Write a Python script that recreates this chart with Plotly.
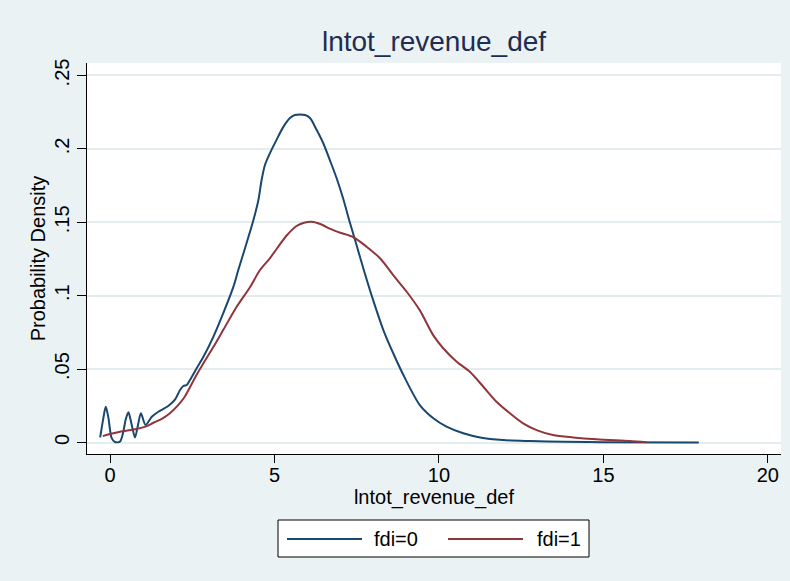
import plotly.graph_objects as go

# Kernel density estimates of lntot_revenue_def, by fdi group
series_names = ["fdi=0", "fdi=1"]
series_colors = ["#1a476f", "#90353b"]

x_fdi0 = [-0.30, -0.20, -0.13, -0.05, 0.05, 0.15, 0.30, 0.40, 0.48, 0.56, 0.65, 0.76,
          0.85, 0.94, 1.08, 1.27, 1.47, 1.77, 1.98, 2.13, 2.23, 2.33, 2.43, 2.63,
          2.84, 3.14, 3.44, 3.75, 3.90, 4.15, 4.36, 4.51, 4.61, 4.71, 4.86, 5.07,
          5.27, 5.47, 5.62, 5.93, 6.08, 6.28, 6.48, 6.69, 6.89, 7.09, 7.29, 7.45,
          7.75, 8.00, 8.31, 8.61, 8.97, 9.42, 9.83, 10.23, 10.74, 11.25, 11.95, 12.77,
          13.78, 15.00, 17.90]
y_fdi0 = [0.0035, 0.0170, 0.0244, 0.0170, 0.0030, 0.0004, 0.0006, 0.0070, 0.0160, 0.0206,
          0.0130, 0.0035, 0.0120, 0.0199, 0.0120, 0.0176, 0.0210, 0.0249, 0.0294, 0.0358,
          0.0385, 0.0392, 0.0426, 0.0505, 0.0584, 0.0720, 0.0880, 0.1060, 0.1175, 0.1357,
          0.1516, 0.1650, 0.1790, 0.1890, 0.1970, 0.2065, 0.2150, 0.2210, 0.2231, 0.2231,
          0.2210, 0.2130, 0.2040, 0.1920, 0.1800, 0.1660, 0.1500, 0.1379, 0.1150, 0.0970,
          0.0766, 0.0608, 0.0437, 0.0255, 0.0165, 0.0108, 0.0063, 0.0035, 0.0017, 0.0010,
          0.0005, 0.0002, 0.0000]

x_fdi1 = [-0.22, 0.00, 0.30, 0.81, 1.10, 1.32, 1.60, 1.82, 2.05, 2.25, 2.45, 2.63, 2.84,
          3.14, 3.44, 3.85, 4.26, 4.56, 4.86, 5.07, 5.37, 5.67, 5.90, 6.13, 6.30, 6.48,
          6.70, 7.00, 7.39, 7.80, 8.21, 8.61, 9.02, 9.42, 9.83, 10.13, 10.54, 10.94,
          11.35, 11.75, 12.16, 12.56, 12.97, 13.47, 14.08, 14.79, 15.80, 16.31]
y_fdi1 = [0.0044, 0.0058, 0.0074, 0.0092, 0.0110, 0.0135, 0.0165, 0.0200, 0.0250, 0.0305,
          0.0385, 0.0460, 0.0540, 0.0650, 0.0766, 0.0925, 0.1060, 0.1175, 0.1255, 0.1320,
          0.1410, 0.1475, 0.1497, 0.1504, 0.1495, 0.1480, 0.1455, 0.1429, 0.1400, 0.1334,
          0.1255, 0.1140, 0.1027, 0.0900, 0.0730, 0.0642, 0.0550, 0.0482, 0.0380, 0.0278,
          0.0199, 0.0131, 0.0085, 0.0051, 0.0035, 0.0022, 0.0010, 0.0002]

x_ticks = [0, 5, 10, 15, 20]
y_ticks = [0, 0.05, 0.10, 0.15, 0.20, 0.25]
y_tick_text = ["0", ".05", ".1", ".15", ".2", ".25"]

chart_title = "lntot_revenue_def"
x_title = "lntot_revenue_def"
y_title = "Probability Density"

W, H = 790, 581
M_L, M_R, M_T, M_B = 87, 9, 63, 127
FONT = "Liberation Sans, Arial, sans-serif"
BG = "#EAF2F3"


def px_x(px):
    return (px - M_L) / (W - M_L - M_R)


def px_y(py):
    return (H - M_B - py) / (H - M_T - M_B)


fig = go.Figure()
for xs, ys, name, color in zip([x_fdi0, x_fdi1], [y_fdi0, y_fdi1], series_names, series_colors):
    fig.add_trace(go.Scatter(
        x=xs, y=ys, mode="lines", name=name,
        line=dict(color=color, width=2, shape="spline", smoothing=0.8),
        showlegend=False,
    ))

fig.update_layout(
    width=W, height=H,
    margin=dict(l=M_L, r=M_R, t=M_T, b=M_B),
    paper_bgcolor=BG, plot_bgcolor="white",
    font=dict(family=FONT, color="black"),
    title=dict(text=chart_title, x=0.5, xref="paper", xanchor="center",
               y=1 - 41 / H, yref="container", yanchor="middle",
               font=dict(size=28, color="#1f2d50", family=FONT)),
)

fig.update_xaxes(
    range=[-0.70, 20.4], tickvals=x_ticks, ticks="outside", ticklen=8, tickwidth=1,
    tickcolor="black", showgrid=False, zeroline=False, showline=True,
    linecolor="black", linewidth=1, tickfont=dict(size=20), ticklabelstandoff=-5,
    title=dict(text=x_title, font=dict(size=20), standoff=3),
)
fig.update_yaxes(
    range=[-0.0078, 0.2585], tickvals=y_ticks, ticktext=y_tick_text, tickangle=-90,
    ticks="outside", ticklen=9, tickwidth=1, tickcolor="black",
    showgrid=True, gridcolor="#E3ECEF", gridwidth=1.5, zeroline=False,
    showline=True, linecolor="black", linewidth=1, tickfont=dict(size=20),
    title=dict(text=y_title, font=dict(size=20), standoff=0),
)

# Legend box below the plot
fig.add_shape(type="rect", xref="paper", yref="paper",
              x0=px_x(278), x1=px_x(589), y0=px_y(557), y1=px_y(520),
              fillcolor="white", line=dict(color="black", width=1), layer="above")
legend_slots = [(287, 362, 372), (448, 523, 535)]
for (lx0, lx1, tx), name, color in zip(legend_slots, series_names, series_colors):
    fig.add_shape(type="line", xref="paper", yref="paper",
                  x0=px_x(lx0), x1=px_x(lx1), y0=px_y(539), y1=px_y(539),
                  line=dict(color=color, width=2))
    fig.add_annotation(text=name, xref="paper", yref="paper", x=px_x(tx), y=px_y(539),
                       xanchor="left", yanchor="middle", showarrow=False,
                       font=dict(size=20, color="black", family=FONT))

fig.write_html("out.html")
